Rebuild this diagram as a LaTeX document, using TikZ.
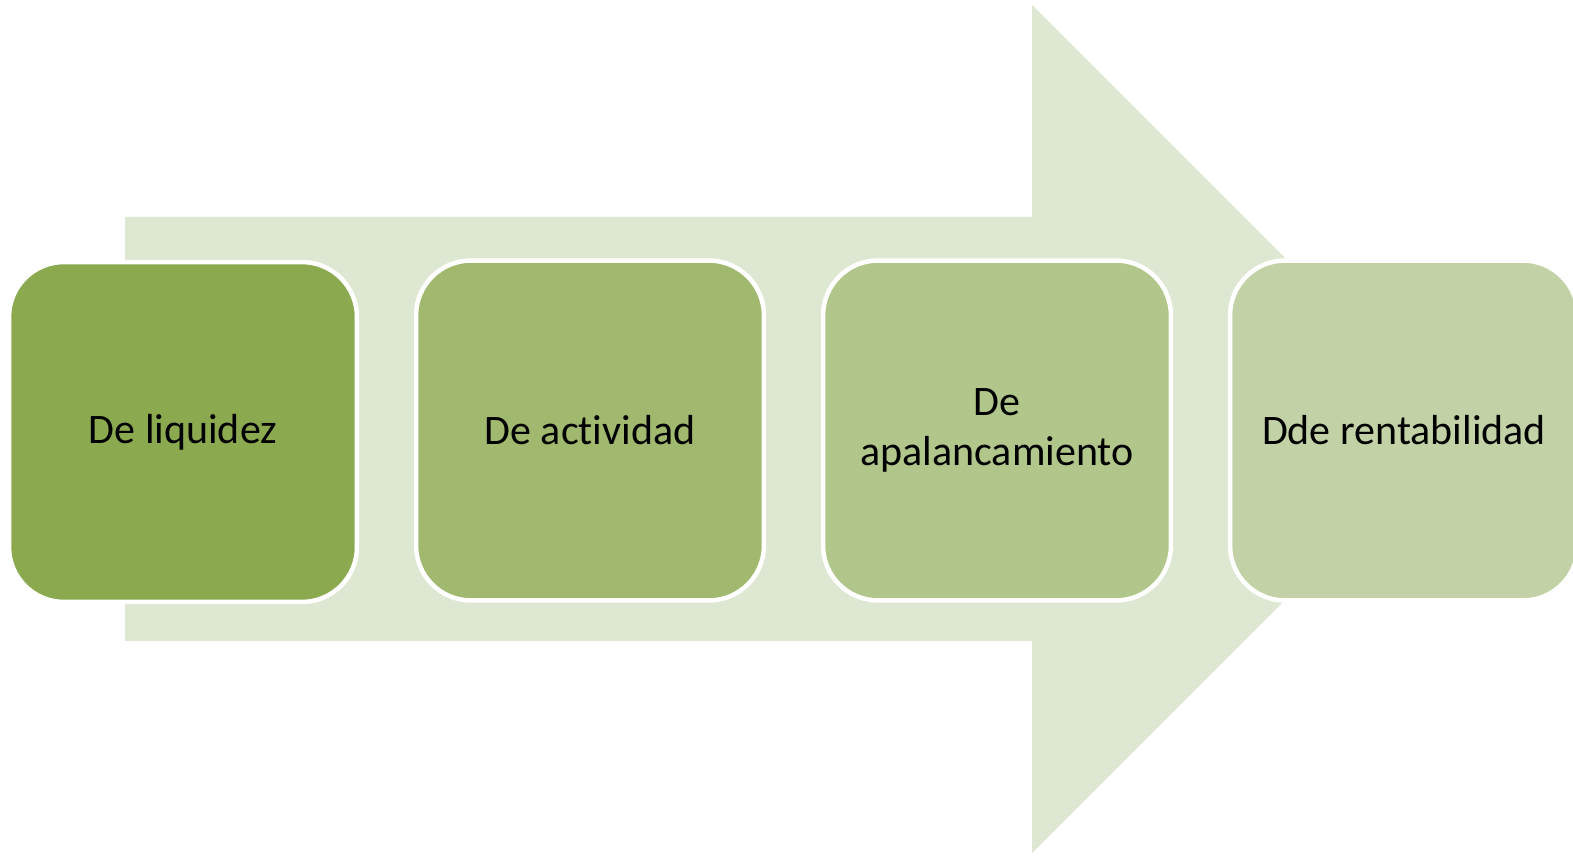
\documentclass[tikz,border=0pt]{standalone}
\usepackage{fontspec}
\setmainfont{Carlito}[Ligatures={NoCommon}]

\definecolor{fleche}{HTML}{DEE7D2}
\definecolor{vertA}{HTML}{8BAA4F}
\definecolor{vertB}{HTML}{A0B96E}
\definecolor{vertC}{HTML}{B1C68A}
\definecolor{vertD}{HTML}{C2D2A6}

\tikzset{
  ratio/.style={draw=white, line width=0.09cm, rounded corners=1.1cm,
    minimum width=6.96cm, minimum height=6.8cm, inner sep=0pt, outer sep=0pt,
    align=center, font=\fontsize{23.9pt}{28.5pt}\selectfont}
}

\begin{document}
\begin{tikzpicture}[x=0.02cm,y=-0.02cm]

% Cadre
\clip (0,0) rectangle (1573,857);

% Grande flèche
\fill[fleche] (125,217) -- (1032,217) -- (1032,5) -- (1456,429)
  -- (1032,853) -- (1032,641) -- (125,641) -- cycle;

% Ratios
\node[ratio, fill=vertA] (liq) at (183,432) {De liquidez};
\node[ratio, fill=vertB] (act) at (590,430.5) {De actividad};
\node[ratio, fill=vertC] (apa) at (997,430.5) {De\\apalancamiento};
\node[ratio, fill=vertD] (ren) at (1404,430.5) {Dde rentabilidad};

\end{tikzpicture}
\end{document}
